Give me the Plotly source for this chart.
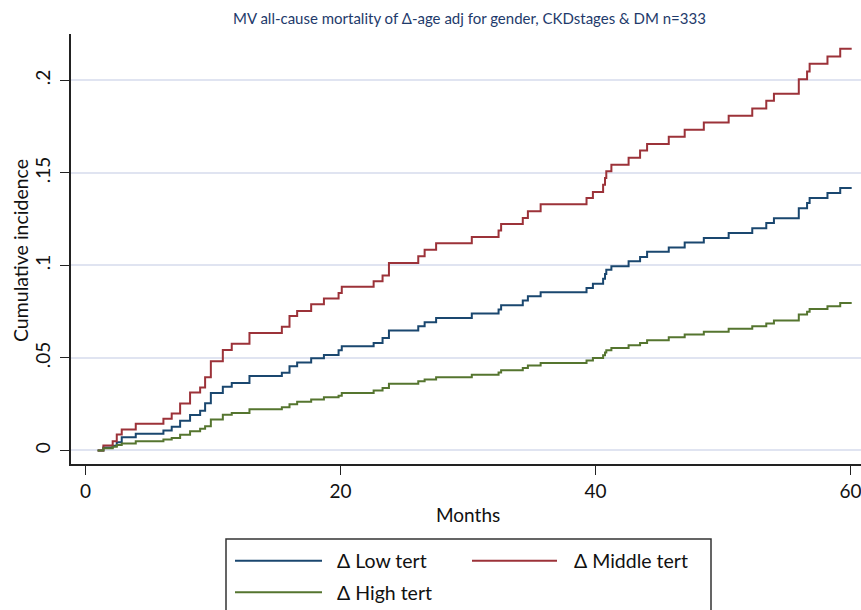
import plotly.graph_objects as go

# Step times (months) shared by the three predicted cumulative-incidence curves
months = [0.95, 1.4, 2.13, 2.45, 2.84, 3.94, 6.11, 6.76, 7.42, 8.2, 8.99, 9.38, 9.83,
          10.77, 11.47, 12.86, 15.4, 16.0, 16.6, 17.7, 18.7, 19.85, 20.1, 22.6, 23.3,
          23.8, 26.1, 26.6, 27.5, 30.3, 32.4, 32.6, 34.3, 34.7, 35.7, 39.3, 39.8, 40.6,
          40.75, 40.85, 41.25, 42.6, 43.5, 44.05, 45.75, 47.0, 48.5, 50.45, 52.3, 53.4,
          54.0, 55.95, 56.6, 56.8, 58.2, 59.2, 60.1]

low_tert = [0, 0.0016, 0.0025, 0.0045, 0.0071, 0.0090, 0.0108, 0.0128, 0.0160, 0.0192,
            0.0215, 0.0255, 0.0310, 0.0344, 0.0365, 0.0403, 0.0420, 0.0455, 0.0475,
            0.0498, 0.0516, 0.0541, 0.0563, 0.0581, 0.0608, 0.0648, 0.0671, 0.0693,
            0.0716, 0.0740, 0.0761, 0.0784, 0.0810, 0.0833, 0.0855, 0.0878, 0.0901,
            0.0928, 0.0954, 0.0977, 0.0995, 0.1022, 0.1045, 0.1073, 0.1097, 0.1124,
            0.1148, 0.1175, 0.1200, 0.1229, 0.1254, 0.1308, 0.1337, 0.1364, 0.1391,
            0.1418, 0.1418]

middle_tert = [0, 0.0027, 0.0050, 0.0086, 0.0113, 0.0144, 0.0171, 0.0200, 0.0254, 0.0313,
               0.0340, 0.0395, 0.0482, 0.0543, 0.0577, 0.0635, 0.0668, 0.0727, 0.0754,
               0.0790, 0.0821, 0.0851, 0.0885, 0.0914, 0.0946, 0.1013, 0.1049, 0.1085,
               0.1119, 0.1153, 0.1188, 0.1224, 0.1256, 0.1292, 0.1330, 0.1364, 0.1397,
               0.1436, 0.1472, 0.1508, 0.1544, 0.1582, 0.1621, 0.1656, 0.1695, 0.1733,
               0.1772, 0.1808, 0.1848, 0.1889, 0.1927, 0.2006, 0.2048, 0.2089, 0.2128,
               0.2170, 0.2170]

high_tert = [0, 0.0012, 0.0020, 0.0030, 0.0038, 0.0050, 0.0059, 0.0068, 0.0085, 0.0104,
             0.0118, 0.0131, 0.0167, 0.0193, 0.0203, 0.0223, 0.0234, 0.0250, 0.0263,
             0.0276, 0.0287, 0.0296, 0.0310, 0.0324, 0.0338, 0.0360, 0.0374, 0.0383,
             0.0396, 0.0409, 0.0421, 0.0434, 0.0446, 0.0459, 0.0473, 0.0486, 0.0500,
             0.0514, 0.0530, 0.0541, 0.0554, 0.0568, 0.0581, 0.0595, 0.0612, 0.0626,
             0.0641, 0.0657, 0.0671, 0.0686, 0.0702, 0.0734, 0.0750, 0.0765, 0.0779,
             0.0797, 0.0797]

series_names = ["Δ Low tert", "Δ Middle tert", "Δ High tert"]
series_values = [low_tert, middle_tert, high_tert]
series_colors = ["#1a476f", "#9c3239", "#55752f"]

y_tickvals = [0, 0.05, 0.1, 0.15, 0.2]
y_ticktext = ["0", ".05", ".1", ".15", ".2"]
x_tickvals = [0, 20, 40, 60]

FONT = "Lato, 'Open Sans', sans-serif"
W, H = 861, 610
ML, MR, MT, MB = 71, 0, 34, 146
PW, PH = W - ML - MR, H - MT - MB


def px(x):
    return (x - ML) / PW


def py(y):
    return (H - MB - y) / PH


fig = go.Figure()
for name, vals, col in zip(series_names, series_values, series_colors):
    fig.add_trace(go.Scatter(x=months, y=vals, mode="lines", name=name,
                             line=dict(color=col, width=2, shape="hv"),
                             showlegend=False))

fig.update_layout(
    width=W, height=H,
    margin=dict(l=ML, r=MR, t=MT, b=MB),
    paper_bgcolor="white", plot_bgcolor="white",
    font=dict(family=FONT, color="#111111", size=19),
)

fig.update_xaxes(range=[-1.14, 60.83], tickvals=x_tickvals, ticks="outside",
                 ticklen=9, tickwidth=1.3, tickcolor="#222222",
                 showline=True, linecolor="#222222", linewidth=1.5,
                 showgrid=False, zeroline=False, ticklabeloverflow="allow",
                 tickfont=dict(size=19, family=FONT, color="#111111"))

fig.update_yaxes(range=[-0.0073, 0.2250], tickvals=y_tickvals, ticktext=y_ticktext,
                 tickangle=-90, ticks="outside", ticklen=9, tickwidth=1.3,
                 tickcolor="#222222", showline=True, linecolor="#222222",
                 linewidth=1.5, showgrid=True, gridcolor="#e0e4f1", gridwidth=1.5,
                 zeroline=False, ticklabelstandoff=3,
                 tickfont=dict(size=19, family=FONT, color="#111111"))

annotations = [
    dict(text="MV all-cause mortality of Δ-age adj for gender, CKDstages & DM n=333",
         xref="paper", yref="paper", x=px(469), y=py(18), xanchor="center",
         yanchor="middle", showarrow=False,
         font=dict(size=15, family=FONT, color="#1e3a6b")),
    dict(text="Months", xref="paper", yref="paper", x=px(468), y=py(514),
         xanchor="center", yanchor="middle", showarrow=False,
         font=dict(size=19, family=FONT, color="#111111")),
    dict(text="Cumulative incidence", xref="paper", yref="paper", x=px(20), y=py(251),
         xanchor="center", yanchor="middle", textangle=-90, showarrow=False,
         font=dict(size=19.5, family=FONT, color="#111111")),
]

shapes = [
    dict(type="rect", xref="paper", yref="paper", x0=px(226), x1=px(711),
         y0=py(539), y1=py(620), line=dict(color="#333333", width=1.5),
         fillcolor="white", layer="above"),
]

# Legend entries: line sample followed by its label
legend_slots = [(235, 322, 560.7, 335), (472, 557, 560.7, 572), (235, 322, 592.3, 335)]
for (x0, x1, yy, tx), name, col in zip(legend_slots, series_names, series_colors):
    shapes.append(dict(type="line", xref="paper", yref="paper", x0=px(x0), x1=px(x1),
                       y0=py(yy), y1=py(yy), line=dict(color=col, width=2),
                       layer="above"))
    annotations.append(dict(text=name, xref="paper", yref="paper", x=px(tx), y=py(yy),
                            xanchor="left", yanchor="middle", showarrow=False,
                            font=dict(size=19.5, family=FONT, color="#111111")))

fig.update_layout(annotations=annotations, shapes=shapes)

fig.write_html("out.html")
